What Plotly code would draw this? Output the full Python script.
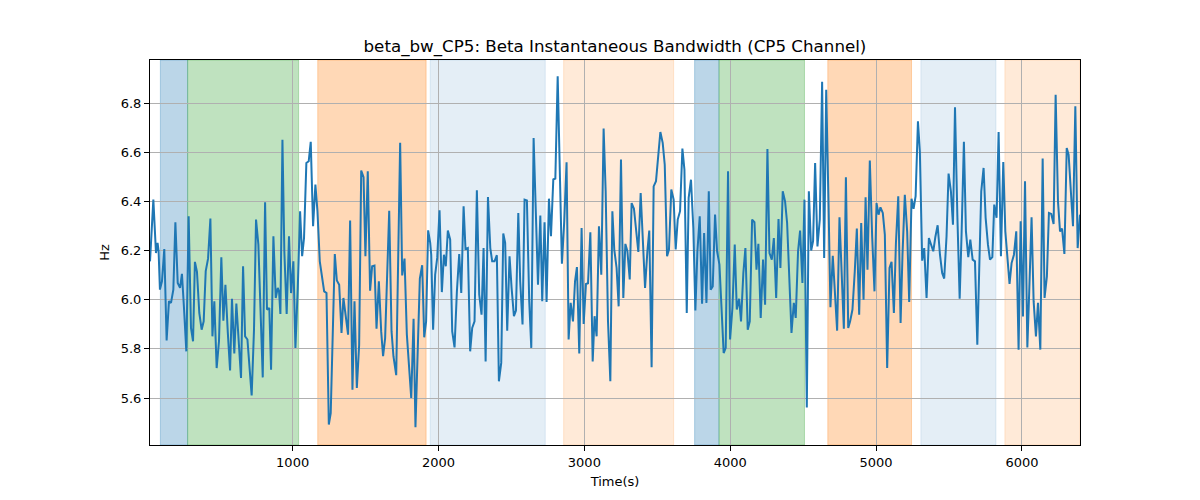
import plotly.graph_objects as go

# sample times (s) and instantaneous beta bandwidth (Hz)
time_s = [
    22, 45, 63, 74, 81, 90, 104, 120, 136, 152, 166, 182, 196, 212, 228, 241, 255, 271, 287, 303,
    317, 330, 344, 360, 376, 390, 404, 420, 436, 450, 463, 479, 495, 511, 525, 539, 555, 571, 584, 600,
    614, 630, 646, 660, 674, 690, 706, 719, 735, 749, 765, 779, 795, 811, 824, 840,
    852, 868, 884, 898, 907, 916, 930, 943, 959, 975, 989, 1005, 1019, 1035, 1051, 1065, 1078, 1094,
    1110, 1124, 1140, 1156, 1170, 1186, 1200, 1216, 1232, 1248, 1261, 1275, 1289, 1303, 1319, 1335,
    1348, 1364, 1380, 1394, 1410, 1424, 1440, 1456, 1470, 1486, 1499, 1515, 1531, 1545, 1561, 1575,
    1591, 1607, 1620, 1634, 1648,
    1662, 1678, 1691, 1710, 1737, 1751, 1767, 1783, 1799, 1813, 1829, 1842, 1858, 1872, 1888, 1902,
    1915, 1929, 1943, 1950, 1963, 1977, 1991, 2007, 2023, 2037, 2050, 2064, 2080, 2094, 2110, 2126,
    2142, 2156, 2172, 2185, 2201, 2217, 2231, 2247, 2263, 2279, 2295, 2309, 2323, 2339, 2355, 2368,
    2384, 2400, 2414, 2430, 2444, 2457, 2471, 2487,
    2501, 2517, 2531, 2547, 2560, 2576, 2590, 2606, 2622, 2636, 2652, 2668, 2682, 2698, 2711, 2727,
    2741, 2757, 2771, 2787, 2801, 2817, 2833, 2846, 2862, 2878, 2892, 2906, 2922, 2936, 2949, 2965,
    2981, 2995, 3011, 3025, 3041, 3057, 3070, 3084, 3100, 3116, 3132, 3146, 3162, 3178, 3192, 3205,
    3221, 3235, 3251, 3267, 3281, 3295, 3311,
    3324, 3340, 3356, 3370, 3386, 3402, 3416, 3432, 3445, 3461, 3475, 3491, 3507, 3521, 3537, 3551,
    3567, 3580, 3596, 3612, 3626, 3640, 3656, 3672, 3686, 3702, 3715, 3731, 3747, 3761, 3775, 3791,
    3807, 3821, 3837, 3853, 3866, 3880, 3896, 3910, 3926, 3942, 3955, 3969, 3985, 3999, 4015, 4031,
    4045, 4061, 4074, 4090, 4104, 4120, 4134,
    4150, 4166, 4180, 4193, 4209, 4225, 4239, 4255, 4269, 4285, 4299, 4315, 4331, 4344, 4360, 4376,
    4390, 4406, 4420, 4436, 4449, 4465, 4479, 4495, 4509, 4525, 4539, 4555, 4568, 4582, 4598, 4614,
    4630, 4644, 4658, 4674, 4687, 4703, 4717, 4733, 4749, 4763, 4779, 4793, 4809, 4822, 4838, 4854,
    4868, 4884, 4898, 4914, 4928, 4941,
    4957, 4973, 4989, 5003, 5017, 5030, 5046, 5060, 5076, 5092, 5106, 5122, 5136, 5152, 5168, 5181,
    5197, 5213, 5227, 5243, 5257, 5271, 5287, 5300, 5316, 5330, 5346, 5362, 5376, 5392, 5406, 5422,
    5438, 5453, 5467, 5483, 5497, 5513, 5527, 5541, 5557, 5573, 5586, 5602, 5616, 5632, 5646, 5662,
    5678, 5694, 5707, 5721, 5737, 5751, 5767, 5781,
    5797, 5810, 5826, 5840, 5856, 5872, 5886, 5902, 5915, 5929, 5945, 5961, 5977, 5991, 6007, 6021,
    6037, 6050, 6066, 6080, 6096, 6110, 6126, 6142, 6155, 6171, 6185, 6201, 6217, 6231, 6247, 6261,
    6275, 6291, 6307, 6320, 6336, 6350, 6366, 6382, 6398,
]

bw_hz = [
    6.156, 6.407, 6.190, 6.231, 6.197, 6.041, 6.075, 6.206, 5.834, 5.994, 5.987, 6.041, 6.315, 6.068,
    6.048, 6.105, 5.966, 5.790, 6.339, 5.885, 5.831, 6.154, 6.113, 5.946, 5.878, 5.912, 6.116, 6.167,
    6.330, 5.851, 5.994, 5.722, 5.831, 6.173, 5.915, 6.061, 5.871, 5.712, 6.004, 5.781, 5.984, 5.838,
    5.682, 6.136, 5.851, 5.838, 5.688, 5.611, 5.878, 6.326, 6.224, 5.960, 5.684, 6.396, 5.960, 5.966,
    5.715, 6.258, 6.007, 6.048, 6.032, 5.942, 6.651, 6.197, 5.942, 6.258, 6.027, 6.156, 5.804, 6.048,
    6.360, 6.177, 6.251, 6.556, 6.563, 6.642, 6.299, 6.468, 6.360, 6.156, 6.102, 6.034, 6.027, 5.492,
    5.539, 5.885, 6.186, 6.078, 6.061, 5.865, 6.007, 5.933, 5.858, 6.322, 5.634, 5.994, 5.641, 5.817,
    6.525, 6.498, 6.177, 6.522, 6.037, 6.136, 6.139, 5.882, 6.075, 5.871, 5.770, 5.844, 6.109,
    6.362, 5.871, 5.770, 5.693, 6.638, 6.099, 6.167, 5.858, 5.729, 5.600, 5.922, 5.481, 5.804, 6.086,
    6.140, 5.847, 5.912, 6.282, 6.231, 6.183, 5.878, 6.102, 6.170, 6.364, 6.031, 6.183, 6.136, 6.281,
    6.244, 5.871, 5.806, 6.034, 6.186, 6.027, 6.380, 6.206, 6.210, 5.790, 5.885, 5.912, 6.445, 6.021,
    5.939, 6.210, 5.749, 6.418, 6.210, 6.156, 6.156, 6.181, 5.668, 5.743, 6.269, 6.231, 5.874, 6.177,
    6.048, 5.933, 5.956, 6.353, 6.075, 5.899, 6.407, 6.404, 5.994, 5.804, 6.658, 6.292, 6.061, 6.342,
    5.994, 6.315, 5.991, 6.411, 6.258, 6.489, 6.493, 6.909, 6.414, 6.146, 6.319, 6.559, 5.838, 5.987,
    5.912, 6.075, 6.133, 5.781, 6.292, 5.901, 6.064, 6.067, 6.274, 5.749, 5.933, 5.851, 6.299, 6.102,
    6.696, 6.441, 5.912, 5.668, 6.360, 6.204, 6.129, 5.973, 6.570, 6.007, 6.227, 6.197, 6.082,
    6.393, 6.370, 6.278, 6.194, 6.434, 6.251, 6.048, 6.197, 6.281, 5.725, 6.461, 6.482, 6.577, 6.682,
    6.638, 6.549, 6.177, 6.204, 6.448, 6.407, 6.204, 6.326, 6.360, 6.615, 6.529, 5.946, 6.414, 6.488,
    6.292, 5.956, 6.197, 6.339, 5.984, 6.271, 5.987, 6.441, 6.041, 6.054, 6.346, 6.197, 6.143, 5.953,
    5.783, 5.804, 6.522, 5.838, 5.966, 6.224, 5.960, 6.004, 5.912, 6.109, 6.210, 5.878, 5.912,
    6.326, 6.315, 6.122, 6.227, 5.926, 6.163, 5.980, 6.613, 6.190, 6.163, 6.251, 6.007, 6.328, 6.129,
    6.441, 6.400, 6.312, 6.048, 5.865, 5.987, 5.926, 6.197, 6.281, 6.068, 6.407, 5.562, 6.441, 6.200,
    6.238, 6.556, 6.217, 6.326, 6.886, 6.170, 6.854, 6.387, 5.969, 6.179, 6.048, 5.874, 6.335, 6.116,
    5.882, 6.498, 5.885, 5.912, 5.960, 6.116, 6.289, 5.939, 6.312, 6.000, 6.417, 6.122,
    6.566, 6.258, 6.034, 6.393, 6.346, 6.376, 6.353, 6.265, 5.722, 6.129, 6.154, 5.946, 6.231, 6.421,
    5.905, 6.183, 6.427, 6.278, 5.991, 6.411, 6.370, 6.421, 6.726, 6.604, 6.159, 6.210, 6.007, 6.251,
    6.224, 6.197, 6.254, 6.303, 6.183, 6.109, 6.086, 6.258, 6.513, 6.441, 6.305, 6.783, 6.346, 6.004,
    6.265, 6.642, 6.278, 6.173, 6.244, 6.163, 6.156, 5.817, 6.122, 6.441, 6.536, 6.333, 6.224, 6.163,
    6.173, 6.387, 6.333, 6.682, 6.177, 6.560, 6.278, 6.170, 6.064, 6.149, 6.183, 6.278, 5.797, 6.319,
    5.932, 6.482, 5.806, 6.034, 6.335, 5.994, 5.851, 5.987, 5.797, 6.574, 6.007, 6.095, 6.353, 6.349,
    6.308, 6.834, 6.400, 6.278, 6.289, 6.186, 6.617, 6.590, 6.455, 6.299, 6.787, 6.210, 6.346,
]

# shaded epochs
span_start = [93, 280, 1172, 1943, 2858, 3756, 3923, 4669, 5307, 5883]
span_end = [280, 1041, 1915, 2732, 3612, 3923, 4509, 5243, 5822, 6398]
span_kind = ["blue", "green", "orange", "pale_blue", "pale_orange",
             "blue", "green", "orange", "pale_blue", "pale_orange"]

SPAN_COLOURS = {
    "blue": "rgba(31,119,180,0.3)",
    "green": "rgba(44,160,44,0.3)",
    "orange": "rgba(255,127,14,0.3)",
    "pale_blue": "rgba(31,119,180,0.12)",
    "pale_orange": "rgba(255,127,14,0.16)",
}

FONT = "DejaVu Sans, Liberation Sans, sans-serif"

fig = go.Figure()
fig.add_trace(go.Scatter(
    x=time_s, y=bw_hz, mode="lines",
    line=dict(color="#1f77b4", width=2),
    showlegend=False,
))

for a, b, k in zip(span_start, span_end, span_kind):
    fig.add_shape(
        type="rect", xref="x", yref="paper", x0=a, x1=b, y0=0, y1=1,
        fillcolor=SPAN_COLOURS[k], line=dict(color=SPAN_COLOURS[k], width=1),
        layer="below",
    )

axis_common = dict(
    showline=True, mirror=True, linecolor="black", linewidth=1,
    ticks="outside", ticklen=5, tickcolor="black", tickwidth=1,
    showgrid=True, gridcolor="#b0b0b0", gridwidth=1, zeroline=False,
    tickfont=dict(size=13, color="black", family=FONT),
)

fig.update_xaxes(
    range=[min(time_s), max(time_s)], dtick=1000, tick0=0,
    title=dict(text="Time(s)", font=dict(size=13, color="black", family=FONT), standoff=8),
    **axis_common,
)
fig.update_yaxes(
    range=[5.409, 6.975], dtick=0.2, tick0=5.6, tickformat=".1f",
    title=dict(text="Hz", font=dict(size=13, color="black", family=FONT), standoff=8),
    **axis_common,
)

# page body adds an 8px offset, so margins are shifted to land the axes where the reference has them
fig.update_layout(
    width=1200, height=500,
    margin=dict(l=142, r=128, t=52, b=63),
    paper_bgcolor="white", plot_bgcolor="white",
    font=dict(family=FONT, color="black"),
    title=dict(
        text="beta_bw_CP5: Beta Instantaneous Bandwidth (CP5 Channel)",
        x=0.5058, xanchor="center", y=0.924, yanchor="middle",
        font=dict(size=16.7, color="black", family=FONT),
    ),
)

fig.write_html("out.html")
